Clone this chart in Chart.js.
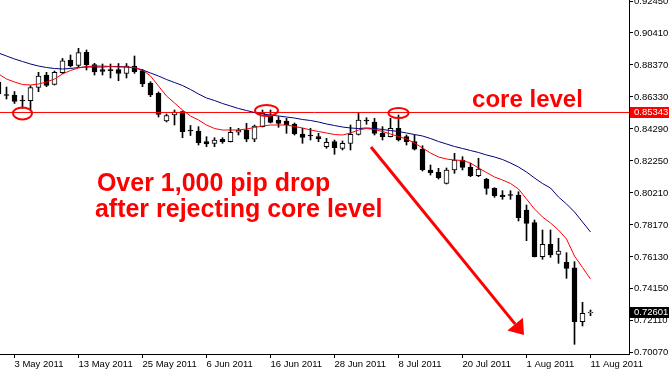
<!DOCTYPE html>
<html>
<head>
<meta charset="utf-8">
<script src="https://cdn.jsdelivr.net/npm/chart.js@4.4.0/dist/chart.umd.min.js"></script>
<style>
html, body { margin: 0; padding: 0; background: #fff; }
canvas { display: block; }
</style>
</head>
<body>
<canvas id="myChart" width="670" height="373"></canvas>
<script>
// daily candles, USD/CHF, 29 Apr - 11 Aug 2011 (weekdays only)
var dates = ['29 Apr 2011', '2 May 2011', '3 May 2011', '4 May 2011', '5 May 2011', '6 May 2011',
  '9 May 2011', '10 May 2011', '11 May 2011', '12 May 2011', '13 May 2011',
  '16 May 2011', '17 May 2011', '18 May 2011', '19 May 2011', '20 May 2011',
  '23 May 2011', '24 May 2011', '25 May 2011', '26 May 2011', '27 May 2011',
  '30 May 2011', '31 May 2011', '1 Jun 2011', '2 Jun 2011', '3 Jun 2011',
  '6 Jun 2011', '7 Jun 2011', '8 Jun 2011', '9 Jun 2011', '10 Jun 2011',
  '13 Jun 2011', '14 Jun 2011', '15 Jun 2011', '16 Jun 2011', '17 Jun 2011',
  '20 Jun 2011', '21 Jun 2011', '22 Jun 2011', '23 Jun 2011', '24 Jun 2011',
  '27 Jun 2011', '28 Jun 2011', '29 Jun 2011', '30 Jun 2011', '1 Jul 2011',
  '4 Jul 2011', '5 Jul 2011', '6 Jul 2011', '7 Jul 2011', '8 Jul 2011',
  '11 Jul 2011', '12 Jul 2011', '13 Jul 2011', '14 Jul 2011', '15 Jul 2011',
  '18 Jul 2011', '19 Jul 2011', '20 Jul 2011', '21 Jul 2011', '22 Jul 2011',
  '25 Jul 2011', '26 Jul 2011', '27 Jul 2011', '28 Jul 2011', '29 Jul 2011',
  '1 Aug 2011', '2 Aug 2011', '3 Aug 2011', '4 Aug 2011', '5 Aug 2011',
  '8 Aug 2011', '9 Aug 2011', '10 Aug 2011', '11 Aug 2011'];

var opens = [0.87285, 0.86457, 0.86457, 0.86138, 0.86093, 0.86948, 0.87732, 0.87139, 0.87879, 0.88688,
  0.88350, 0.89180, 0.88400, 0.88083, 0.88051, 0.88083, 0.87828, 0.88305, 0.88006, 0.87203,
  0.86565, 0.84799, 0.85181, 0.85392, 0.84193, 0.84161, 0.83479, 0.83377, 0.83633, 0.83479,
  0.84079, 0.84225, 0.83633, 0.84436, 0.85181, 0.84863, 0.84799, 0.84608, 0.83970, 0.83874,
  0.83798, 0.83161, 0.83479, 0.83058, 0.83377, 0.83951, 0.84831, 0.84723, 0.84015, 0.83798,
  0.84334, 0.83798, 0.83479, 0.82995, 0.81675, 0.81529, 0.80827, 0.81675, 0.82312, 0.81847,
  0.81311, 0.81082, 0.80508, 0.80081, 0.80081, 0.80081, 0.79124, 0.78315, 0.76147, 0.76937,
  0.76300, 0.75790, 0.75445, 0.72003, 0.72560];
var highs = [0.87413, 0.86967, 0.86680, 0.86425, 0.87050, 0.87904, 0.87904, 0.87987, 0.88790, 0.89007,
  0.89434, 0.89326, 0.88478, 0.88433, 0.88433, 0.88465, 0.88465, 0.88943, 0.88096, 0.87305,
  0.86650, 0.85245, 0.85500, 0.85437, 0.84512, 0.84436, 0.83798, 0.83734, 0.83734, 0.84397,
  0.84334, 0.84652, 0.84544, 0.85500, 0.85500, 0.85073, 0.84970, 0.84672, 0.84334, 0.84334,
  0.84015, 0.83696, 0.83588, 0.83524, 0.84544, 0.85290, 0.85009, 0.84970, 0.84436, 0.84970,
  0.85181, 0.83906, 0.83906, 0.83224, 0.81994, 0.81784, 0.81803, 0.82739, 0.82523, 0.82102,
  0.82421, 0.81146, 0.80547, 0.80355, 0.80355, 0.80291, 0.79443, 0.78487, 0.77849, 0.77849,
  0.77320, 0.76402, 0.75828, 0.73239, 0.72748];
var lows = [0.86330, 0.86202, 0.85915, 0.85596, 0.85500, 0.86668, 0.86986, 0.87094, 0.87828, 0.88241,
  0.88260, 0.88051, 0.87732, 0.87732, 0.87541, 0.87368, 0.87541, 0.87840, 0.86986, 0.86349,
  0.85054, 0.84735, 0.84544, 0.83734, 0.83875, 0.83269, 0.83161, 0.83161, 0.83377, 0.83460,
  0.83906, 0.83479, 0.83479, 0.84416, 0.84672, 0.84397, 0.84015, 0.83906, 0.83377, 0.83588,
  0.83479, 0.83058, 0.82676, 0.82950, 0.82950, 0.83906, 0.84589, 0.83906, 0.83588, 0.83779,
  0.83524, 0.83269, 0.82950, 0.81611, 0.81356, 0.81101, 0.80782, 0.81464, 0.81675, 0.81248,
  0.81248, 0.80126, 0.79935, 0.79807, 0.79807, 0.78423, 0.77167, 0.76128, 0.75981, 0.76108,
  0.75726, 0.74770, 0.70561, 0.71729, 0.72385];
var closes = [0.86521, 0.86425, 0.86042, 0.86074, 0.86922, 0.87668, 0.87075, 0.87904, 0.88643, 0.88305,
  0.89154, 0.88388, 0.87923, 0.87955, 0.88006, 0.87828, 0.88305, 0.87943, 0.87158, 0.86457,
  0.85213, 0.85150, 0.85373, 0.84117, 0.84161, 0.83416, 0.83333, 0.83588, 0.83479, 0.84079,
  0.84225, 0.83633, 0.84480, 0.85290, 0.84716, 0.84652, 0.84544, 0.83970, 0.83760, 0.83843,
  0.83652, 0.83441, 0.83097, 0.83377, 0.83951, 0.84863, 0.84799, 0.84015, 0.83798, 0.84334,
  0.83588, 0.83479, 0.82995, 0.81675, 0.81503, 0.81185, 0.81675, 0.82312, 0.81847, 0.81311,
  0.81739, 0.80508, 0.80037, 0.79973, 0.80049, 0.78634, 0.78276, 0.76147, 0.76937, 0.76255,
  0.76510, 0.75407, 0.72003, 0.72537, 0.72601];

// the two moving averages
var redMA = [0.87796, 0.87477, 0.87285, 0.87126, 0.87094, 0.87158, 0.87285, 0.87477, 0.87796, 0.88019,
  0.88178, 0.88274, 0.88305, 0.88305, 0.88274, 0.88242, 0.88242, 0.88210, 0.88051, 0.87668,
  0.87031, 0.86393, 0.85947, 0.85500, 0.85118, 0.84863, 0.84544, 0.84320, 0.84225, 0.84225,
  0.84225, 0.84289, 0.84385, 0.84480, 0.84544, 0.84544, 0.84544, 0.84448, 0.84353, 0.84225,
  0.84130, 0.84034, 0.83938, 0.83906, 0.84034, 0.84225, 0.84320, 0.84257, 0.84130, 0.83970,
  0.83811, 0.83652, 0.83397, 0.83078, 0.82759, 0.82504, 0.82376, 0.82312, 0.82281, 0.82121,
  0.81803, 0.81515, 0.81229, 0.81037, 0.80814, 0.80463, 0.79826, 0.79188, 0.78678, 0.78296,
  0.77849, 0.77275, 0.76190, 0.75458, 0.74725];
var blueMA = [0.89135, 0.88943, 0.88752, 0.88593, 0.88433, 0.88305, 0.88210, 0.88146, 0.88115, 0.88146,
  0.88210, 0.88242, 0.88242, 0.88242, 0.88274, 0.88274, 0.88242, 0.88178, 0.88051, 0.87860,
  0.87668, 0.87445, 0.87254, 0.87062, 0.86807, 0.86521, 0.86266, 0.86106, 0.85915, 0.85755,
  0.85596, 0.85468, 0.85341, 0.85245, 0.85181, 0.85118, 0.85054, 0.84990, 0.84895, 0.84831,
  0.84735, 0.84608, 0.84512, 0.84416, 0.84353, 0.84320, 0.84353, 0.84320, 0.84257, 0.84193,
  0.84130, 0.84034, 0.83938, 0.83843, 0.83683, 0.83492, 0.83333, 0.83173, 0.83046, 0.82918,
  0.82791, 0.82631, 0.82504, 0.82344, 0.82121, 0.81866, 0.81547, 0.81165, 0.80814, 0.80527,
  0.79953, 0.79507, 0.78997, 0.78360, 0.77722];

var priceTicks = [0.92450, 0.90410, 0.88370, 0.86330, 0.84290, 0.82250, 0.80210, 0.78170, 0.76130, 0.74150, 0.72110, 0.70070];
var dateTicks = ['3 May 2011', '13 May 2011', '25 May 2011', '6 Jun 2011', '16 Jun 2011',
  '28 Jun 2011', '8 Jul 2011', '20 Jul 2011', '1 Aug 2011', '11 Aug 2011'];

var coreLevel = 0.85343;
var lastPrice = 0.72601;

// hand-drawn notes, anchored in (bar index, price)
var noteTexts = [
  {text: 'core level', i: 59.2, v: 0.8572, size: 24},
  {text: 'Over 1,000 pip drop', i: 12.3, v: 0.8034, size: 25},
  {text: 'after rejecting core level', i: 12.05, v: 0.7868, size: 25}
];
var noteRings = [
  {i: 3, v: 0.8528, rx: 9.5, ry: 6},
  {i: 33.5, v: 0.8547, rx: 11.5, ry: 5.5},
  {i: 50, v: 0.8531, rx: 10, ry: 5}
];
var noteArrow = {from: [46.56, 0.83141], to: [65.69, 0.71155]};

var tickFont = {family: '"Liberation Sans", Arial, sans-serif', size: 9.5};

var notesPlugin = {
  id: 'notes',
  afterDatasetsDraw: function (chart) {
    var xs = chart.scales.x, ys = chart.scales.y, c = chart.ctx;
    c.save();
    c.strokeStyle = '#ff0000';
    c.fillStyle = '#ff0000';
    c.lineWidth = 2;
    noteRings.forEach(function (r) {
      c.beginPath();
      c.ellipse(xs.getPixelForValue(r.i), ys.getPixelForValue(r.v), r.rx, r.ry, 0, 0, Math.PI * 2);
      c.stroke();
    });

    var x0 = xs.getPixelForValue(noteArrow.from[0]), y0 = ys.getPixelForValue(noteArrow.from[1]);
    var x1 = xs.getPixelForValue(noteArrow.to[0]), y1 = ys.getPixelForValue(noteArrow.to[1]);
    var ang = Math.atan2(y1 - y0, x1 - x0);
    var headLen = 14, headW = 10;
    var bx = x1 - headLen * Math.cos(ang), by = y1 - headLen * Math.sin(ang);
    c.lineWidth = 3;
    c.beginPath();
    c.moveTo(x0, y0);
    c.lineTo(bx, by);
    c.stroke();
    c.beginPath();
    c.moveTo(x1, y1);
    c.lineTo(bx + headW * Math.sin(ang), by - headW * Math.cos(ang));
    c.lineTo(bx - headW * Math.sin(ang), by + headW * Math.cos(ang));
    c.closePath();
    c.fill();

    c.textAlign = 'left';
    c.textBaseline = 'alphabetic';
    noteTexts.forEach(function (t) {
      c.font = 'bold ' + t.size + 'px "Liberation Sans", Arial, sans-serif';
      c.fillText(t.text, xs.getPixelForValue(t.i), ys.getPixelForValue(t.v));
    });
    c.restore();
  },
  afterDraw: function (chart) {
    var ys = chart.scales.y, c = chart.ctx;
    c.save();
    c.font = tickFont.size + 'px ' + tickFont.family;
    c.textBaseline = 'middle';
    c.textAlign = 'left';
    [[coreLevel, '#ff0000'], [lastPrice, '#000000']].forEach(function (p) {
      var py = Math.round(ys.getPixelForValue(p[0]));
      c.fillStyle = p[1];
      c.fillRect(ys.left + 1, py - 5, ys.right - ys.left - 2, 11);
      c.fillStyle = '#ffffff';
      c.fillText(p[0].toFixed(5), ys.left + 5, py + 0.5);
    });
    c.restore();
  }
};

var ctx = document.getElementById('myChart').getContext('2d');
var myChart = new Chart(ctx, {
  type: 'bar',
  data: {
    datasets: [{
      type: 'line',
      label: 'MA fast',
      data: redMA.map(function (v, i) { return {x: i, y: v}; }),
      borderColor: '#ff0000',
      borderWidth: 1,
      pointRadius: 0,
      tension: 0,
      order: 0
    }, {
      type: 'line',
      label: 'MA slow',
      data: blueMA.map(function (v, i) { return {x: i, y: v}; }),
      borderColor: '#000080',
      borderWidth: 1,
      pointRadius: 0,
      tension: 0,
      order: 0
    }, {
      label: 'body',
      data: opens.map(function (o, i) { return {x: i, y: [o, closes[i]]}; }),
      backgroundColor: function (c) {
        var i = c.dataIndex;
        return closes[i] >= opens[i] ? '#ffffff' : '#000000';
      },
      borderColor: '#000000',
      borderWidth: 1,
      borderSkipped: false,
      barThickness: 5,
      minBarLength: 1,
      grouped: false,
      order: 2
    }, {
      label: 'wick',
      data: lows.map(function (l, i) { return {x: i, y: [l, highs[i]]}; }),
      backgroundColor: '#000000',
      borderWidth: 0,
      barThickness: 1,
      grouped: false,
      order: 3
    }, {
      type: 'line',
      label: 'core level',
      data: [{x: 0.1875, y: coreLevel}, {x: 78.8125, y: coreLevel}],
      borderColor: '#ff0000',
      borderWidth: 1,
      pointRadius: 0,
      order: 1
    }]
  },
  options: {
    responsive: false,
    animation: false,
    devicePixelRatio: 1,
    layout: {padding: 0},
    plugins: {legend: {display: false}, tooltip: {enabled: false}},
    scales: {
      x: {
        type: 'linear',
        offset: false,
        min: 0.1875,
        max: 78.8125,
        grid: {offset: false, drawOnChartArea: false, drawTicks: true, tickLength: 4, color: '#000000'},
        border: {display: true, color: '#000000'},
        ticks: {
          autoSkip: false,
          maxRotation: 0,
          align: 'start',
          padding: 1,
          color: '#000000',
          font: tickFont,
          callback: function (v) { return dates[v]; }
        },
        afterBuildTicks: function (scale) {
          scale.ticks = dateTicks.map(function (d) { return {value: dates.indexOf(d)}; });
        },
        afterFit: function (scale) {
          scale.height = 19;
          scale.paddingLeft = 0;
          scale.paddingRight = 0;
        }
      },
      y: {
        position: 'right',
        min: 0.69943,
        max: 0.92514,
        grid: {drawOnChartArea: false, drawTicks: true, tickLength: 4, color: '#000000'},
        border: {display: true, color: '#000000'},
        ticks: {
          autoSkip: false,
          padding: 1,
          color: '#000000',
          font: tickFont,
          callback: function (v) { return v.toFixed(5); }
        },
        afterBuildTicks: function (scale) {
          scale.ticks = priceTicks.map(function (v) { return {value: v}; });
        },
        afterFit: function (scale) {
          scale.width = 41;
          scale.paddingTop = 0;
          scale.paddingBottom = 0;
        }
      }
    }
  },
  plugins: [notesPlugin]
});
</script>
</body>
</html>
